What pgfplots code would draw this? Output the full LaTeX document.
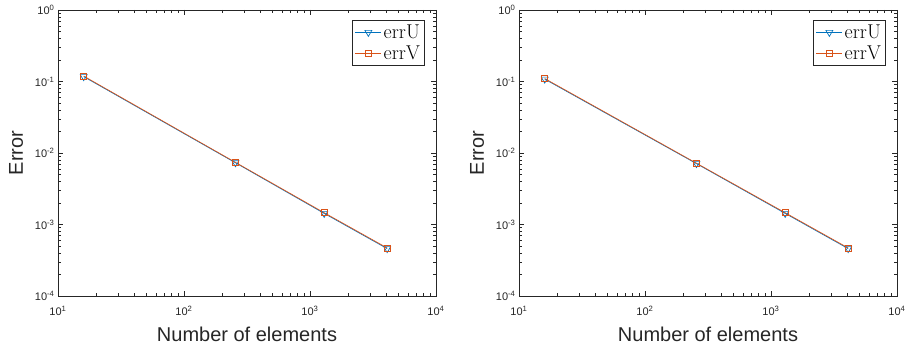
\documentclass[border=0pt]{standalone}
\usepackage{fontspec}
\setsansfont{Liberation Sans}
\newfontfamily\lmfont{Latin Modern Roman}
\usepackage{pgfplots}
\pgfplotsset{compat=1.18}
\definecolor{mblue}{RGB}{0,114,189}
\definecolor{morange}{RGB}{217,83,25}
\definecolor{axgray}{RGB}{38,38,38}
\pgfplotsset{
    scale only axis, width=378pt, height=286pt,
    xmin=10, xmax=10000, ymin=1e-4, ymax=1,
    xtick={10,100,1000,10000},
    xticklabels={10\textsuperscript{1},10\textsuperscript{2},10\textsuperscript{3},10\textsuperscript{4}},
    ytick={1e-4,1e-3,1e-2,1e-1,1},
    yticklabels={10\textsuperscript{-4},10\textsuperscript{-3},10\textsuperscript{-2},10\textsuperscript{-1},10\textsuperscript{0}},
    tick label style={font=\sffamily\fontsize{11}{12}\selectfont, text=axgray},
    xticklabel shift=7pt,
    label style={font=\sffamily\fontsize{20}{24}\selectfont, text=axgray},
    xlabel shift=4pt, ylabel shift=5pt,
    axis line style={axgray, line width=0.8pt},
    tick style={axgray, line width=0.6pt},
    major tick length=5pt, minor tick length=3pt,
    tick align=inside,
    legend style={at={(0.97,0.965)}, anchor=north east, draw=axgray, line width=0.6pt,
      font=\lmfont\fontsize{20}{22}\selectfont, inner sep=2.5pt, row sep=2pt},
    legend cell align=left,
    legend image code/.code={
      \draw[mark repeat=2, mark phase=2, #1] plot coordinates {(0pt,0pt) (13pt,0pt) (26pt,0pt)};
    },
    every axis plot/.append style={line width=0.7pt},
}
\begin{document}
\begin{tikzpicture}[x=1pt,y=1pt]
\path[use as bounding box] (0,0) rectangle (911,352);
\begin{loglogaxis}[at={(58pt,56pt)}, anchor=south west, xlabel={Number of elements}, ylabel={Error}]
\addplot[mblue, mark=triangle, mark options={rotate=180, mark size=4pt, solid, fill=white}] coordinates {(16,0.117) (256,0.0073) (1296,0.00143) (4096,0.00046)};
\addlegendentry{errU}
\addplot[morange, mark=square, mark options={mark size=3pt, solid, fill=none}] coordinates {(16,0.119) (256,0.0074) (1296,0.00146) (4096,0.00047)};
\addlegendentry{errV}
\end{loglogaxis}
\begin{loglogaxis}[at={(519pt,56pt)}, anchor=south west, xlabel={Number of elements}, ylabel={Error}]
\addplot[mblue, mark=triangle, mark options={rotate=180, mark size=4pt, solid, fill=white}] coordinates {(16,0.108) (256,0.0071) (1296,0.00143) (4096,0.00046)};
\addlegendentry{errU}
\addplot[morange, mark=square, mark options={mark size=3pt, solid, fill=none}] coordinates {(16,0.110) (256,0.0072) (1296,0.00146) (4096,0.00047)};
\addlegendentry{errV}
\end{loglogaxis}
\end{tikzpicture}
\end{document}
